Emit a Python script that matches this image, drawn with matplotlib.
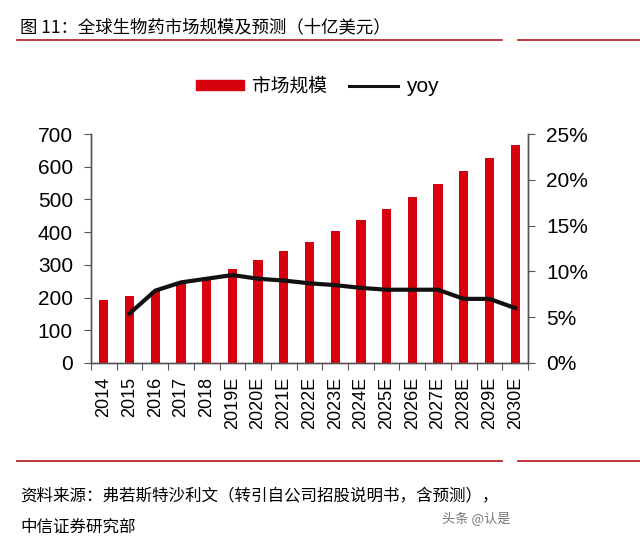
import matplotlib.pyplot as plt
from matplotlib.lines import Line2D
from matplotlib.patches import Patch
from matplotlib.ticker import FuncFormatter

years = ['2014', '2015', '2016', '2017', '2018', '2019E', '2020E', '2021E', '2022E',
         '2023E', '2024E', '2025E', '2026E', '2027E', '2028E', '2029E', '2030E']
market = [194, 204, 221, 246, 262, 286, 314, 342, 371,
          402, 436, 471, 507, 548, 587, 628, 666]
yoy_years = years[1:]
yoy = [5.4, 7.9, 8.8, 9.2, 9.6, 9.2, 9.0, 8.7, 8.5, 8.2, 8.0, 8.0, 8.0, 7.0, 7.0, 6.0]

red = '#D7000F'
cjk = ['Noto Sans CJK SC', 'DejaVu Sans']
num = ['Liberation Sans', 'DejaVu Sans']

fig = plt.figure(figsize=(6.4, 5.41), dpi=100)
ax = fig.add_axes([91 / 640, (541 - 363) / 541, (528 - 91) / 640, (363 - 134) / 541])
ax2 = ax.twinx()

x = list(range(len(years)))
ax.bar(x, market, width=0.36, color=red, zorder=2)
ax2.plot(x[1:], yoy, color='#111111', lw=3.0, solid_joinstyle='round', zorder=3)

ax.set_xlim(-0.5, len(years) - 0.5)
ax.set_ylim(0, 700)
ax.set_yticks(range(0, 701, 100))
ax2.set_ylim(0, 25)
ax2.set_yticks(range(0, 26, 5))
ax2.yaxis.set_major_formatter(FuncFormatter(lambda v, p: f'{int(v)}%'))

# ticks between categories, labels at centres
ax.set_xticks([i - 0.5 for i in range(len(years) + 1)])
ax.set_xticklabels([])
ax.set_xticks(x, minor=True)
ax.set_xticklabels(years, minor=True, rotation=90, family=num, fontsize=13)
ax.tick_params(axis='x', which='minor', length=0, pad=10)
ax.tick_params(axis='x', which='major', length=5, color='#555555', direction='out')

for a in (ax, ax2):
    a.spines['top'].set_visible(False)
    for s in ('left', 'right', 'bottom'):
        a.spines[s].set_color('#555555')
        a.spines[s].set_linewidth(1)
ax.tick_params(axis='y', length=5, color='#555555', labelsize=15, pad=8)
ax2.tick_params(axis='y', length=5, color='#555555', labelsize=15, pad=8)
for lab in ax.get_yticklabels() + ax2.get_yticklabels():
    lab.set_family(num)

handles = [Patch(color=red), Line2D([], [], color='#111111', lw=2.2)]
leg = fig.legend(handles, ['市场规模', 'yoy'], loc='center', bbox_to_anchor=(317 / 640, 1 - 86 / 541),
                 ncol=2, frameon=False, prop={'family': cjk, 'size': 13.5},
                 handlelength=2.6, handleheight=0.5, columnspacing=1.2, handletextpad=0.4)
for t in leg.get_texts()[1:]:
    t.set_family(num)
    t.set_fontsize(15)

# title and red rules
fig.text(20 / 640, 1 - 27 / 541, '图 11：全球生物药市场规模及预测（十亿美元）',
         family=cjk, fontsize=12.5, va='center', ha='left')
for yy in (40, 461):
    fig.add_artist(Line2D([17 / 640, 502 / 640], [1 - yy / 541] * 2, color='#B8282E', lw=1.3))
    fig.add_artist(Line2D([518 / 640, 1.0], [1 - yy / 541] * 2, color='#B8282E', lw=1.3))

fig.text(20 / 640, 1 - 497 / 541, '资料来源：弗若斯特沙利文（转引自公司招股说明书，含预测），',
         family=cjk, fontsize=11.9, va='center', ha='left')
fig.text(20 / 640, 1 - 527 / 541, '中信证券研究部',
         family=cjk, fontsize=11.9, va='center', ha='left')
fig.text(510 / 640, 1 - 519 / 541, '头条 @认是', family=cjk, fontsize=9.5,
         color='#777777', va='center', ha='right')

fig.savefig('out.png', dpi=100)
